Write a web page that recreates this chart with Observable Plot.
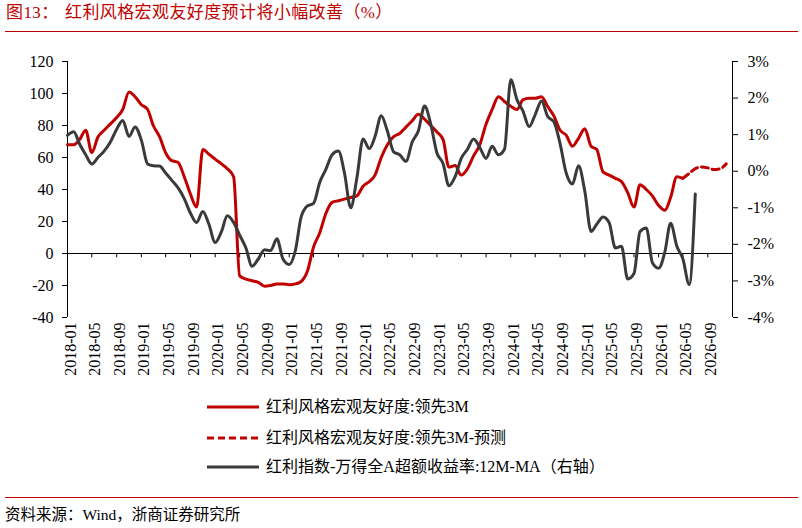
<!DOCTYPE html>
<html>
<head>
<meta charset="utf-8">
<script src="https://cdn.jsdelivr.net/npm/d3@7"></script>
<script src="https://cdn.jsdelivr.net/npm/@observablehq/plot@0.6"></script>
<style>
  body { margin: 0; background: #fff; }
  #wrap { position: relative; width: 802px; height: 528px; overflow: hidden;
          font-family: "Liberation Serif", "Noto Sans CJK SC", serif; color: #000; }
  .title { position: absolute; top: 3px; font-size: 17px; line-height: 20px; color: #c00000;
           white-space: nowrap; letter-spacing: 0.4px; }
  .rule { position: absolute; left: 5px; width: 793px; height: 0; border-top: 1.3px solid #c00000; }
  #chart { position: absolute; left: 0; top: 40px; }
  .leg { position: absolute; left: 207px; height: 20px; font-size: 16px; line-height: 20px; white-space: nowrap; }
  .leg svg { position: absolute; left: 0; top: 5px; }
  .leg span { position: absolute; left: 59px; top: 0; }
  #source { position: absolute; left: 5px; top: 505px; font-size: 15.5px; line-height: 20px; white-space: nowrap; }
</style>
</head>
<body>
<div id="wrap">
  <div class="title" style="left:6px;">图13：</div>
  <div class="title" style="left:65px;">红利风格宏观友好度预计将小幅改善（%）</div>
  <div class="rule" style="top:31px;"></div>
  <div id="chart"></div>
  <div class="leg" style="top:397px;"><svg width="52" height="10"><line x1="0" y1="5" x2="52" y2="5" stroke="#c00000" stroke-width="3"/></svg><span>红利风格宏观友好度:领先3M</span></div>
  <div class="leg" style="top:428px;"><svg width="52" height="10"><line x1="0" y1="5" x2="52" y2="5" stroke="#c00000" stroke-width="3" stroke-dasharray="7,4"/></svg><span>红利风格宏观友好度:领先3M-预测</span></div>
  <div class="leg" style="top:457px;"><svg width="52" height="10"><line x1="0" y1="5" x2="52" y2="5" stroke="#3a3a3a" stroke-width="3"/></svg><span>红利指数-万得全A超额收益率:12M-MA（右轴）</span></div>
  <div class="rule" style="top:497px;"></div>
  <div id="source">资料来源：Wind，浙商证券研究所</div>
</div>
<script>
// ---- data (monthly, starting 2018-01) ----
const startYear = 2018, startMonth = 0;

// 红利风格宏观友好度:领先3M (left axis), 2018-01 .. 2026-05
const redSolid = [
  68, 68, 71, 77, 63, 73, 77, 81, 85, 90,
  101, 98, 93, 90, 80, 73, 63, 58, 57, 48,
  37, 29, 65, 62, 59, 56, 53, 48, -14, -16,
  -17, -18, -20.5, -20, -19, -19, -19.5, -19, -17.5, -11,
  4, 13, 25, 32, 33, 34, 35, 36, 42, 45,
  49, 60, 68, 73, 75, 79, 83, 87, 84, 80,
  76, 71, 54, 55, 49, 53, 61, 68, 81, 90,
  98, 95, 92, 90, 96, 97, 97, 98, 92, 86,
  77, 74, 67, 72, 78, 67, 65, 51, 49, 47,
  45, 38, 29, 43, 40, 36, 30, 27, 35, 48,
  47
];
// 红利风格宏观友好度:领先3M-预测 (left axis), 2026-05 .. 2026-12
const redForecastStart = 100;
const redForecast = [47, 50, 53, 54, 53.5, 52.5, 53, 56];

// 红利指数-万得全A超额收益率:12M-MA (right axis, %), 2018-01 .. 2026-07
const blackPct = [
  0.98, 1.08, 0.75, 0.45, 0.20, 0.38, 0.55, 0.80, 1.15, 1.39,
  0.95, 1.21, 0.85, 0.20, 0.15, 0.14, -0.05, -0.25, -0.45, -0.75,
  -1.15, -1.40, -1.10, -1.45, -1.95, -1.65, -1.22, -1.40, -1.75, -2.10,
  -2.60, -2.40, -2.15, -2.17, -1.85, -2.40, -2.55, -2.15, -1.25, -0.95,
  -0.88, -0.30, 0.05, 0.45, 0.55, -0.05, -1.00, -0.20, 0.88, 0.62,
  0.95, 1.52, 1.10, 0.53, 0.45, 0.27, 0.80, 1.10, 1.78, 1.30,
  0.50, 0.20, -0.40, -0.15, 0.35, 0.60, 0.88, 0.65, 0.35, 0.68,
  0.45, 0.60, 2.50, 1.95, 1.65, 1.22, 1.55, 1.92, 1.50, 1.35,
  0.75, -0.05, -0.35, 0.15, -0.55, -1.65, -1.45, -1.25, -1.40, -2.10,
  -2.05, -2.95, -2.80, -1.65, -1.55, -2.50, -2.65, -2.20, -1.42, -2.05,
  -2.40, -3.10, -0.62
];

const xTickLabels = ["2018-01","2018-05","2018-09","2019-01","2019-05","2019-09","2020-01","2020-05","2020-09",
  "2021-01","2021-05","2021-09","2022-01","2022-05","2022-09","2023-01","2023-05","2023-09","2024-01",
  "2024-05","2024-09","2025-01","2025-05","2025-09","2026-01","2026-05","2026-09"];
const leftTicks = [-40, -20, 0, 20, 40, 60, 80, 100, 120];
const rightTicks = [-4, -3, -2, -1, 0, 1, 2, 3];

// ---- build ----
const monthDate = i => new Date(Date.UTC(startYear, startMonth + i, 1));
const parseYM = d3.utcParse("%Y-%m");
const xTicks = xTickLabels.map(parseYM);
const xDomain = [monthDate(0), monthDate(108)];
const toLeft = d3.scaleLinear([-4, 3], [-40, 120]);

const redData = redSolid.map((v, i) => ({date: monthDate(i), value: v}));
const redFcData = redForecast.map((v, i) => ({date: monthDate(redForecastStart + i), value: v}));
const blackData = blackPct.map((v, i) => ({date: monthDate(i), value: v}));

const chart = Plot.plot({
  width: 802,
  height: 345,
  marginLeft: 67,
  marginRight: 70,
  marginTop: 21,
  marginBottom: 68,
  style: {fontFamily: '"Liberation Serif", serif', fontSize: "16px", color: "#000", background: "transparent"},
  x: {type: "utc", domain: xDomain},
  y: {domain: [-40, 120]},
  marks: [
    Plot.ruleX([xDomain[0], xDomain[1]], {stroke: "#000", strokeWidth: 1}),
    Plot.ruleY([0], {stroke: "#000", strokeWidth: 1}),
    Plot.ruleX(xTicks, {y1: 0, y2: -2.7, stroke: "#000", strokeWidth: 1}),
    Plot.axisY({anchor: "left", ticks: leftTicks, tickSize: 5, tickPadding: 9, fontSize: 16,
                label: null, tickFormat: d => String(d)}),
    Plot.axisY({anchor: "right", ticks: rightTicks.map(toLeft), tickSize: 5, tickPadding: 10, fontSize: 16,
                label: null, tickFormat: v => Math.round(toLeft.invert(v)) + "%"}),
    Plot.axisX({anchor: "bottom", ticks: xTicks, tickSize: 0, tickPadding: 5, tickRotate: -90, fontSize: 16,
                label: null, tickFormat: d3.utcFormat("%Y-%m"), dx: 3}),
    Plot.line(redData, {x: "date", y: "value", stroke: "#c00000", strokeWidth: 3, curve: "monotone-x"}),
    Plot.line(redFcData, {x: "date", y: "value", stroke: "#c00000", strokeWidth: 3, strokeDasharray: "7,4", curve: "monotone-x"}),
    Plot.line(blackData, {x: "date", y: d => toLeft(d.value), stroke: "#3a3a3a", strokeWidth: 3, curve: "monotone-x"})
  ]
});
document.getElementById("chart").appendChild(chart);
</script>
</body>
</html>
